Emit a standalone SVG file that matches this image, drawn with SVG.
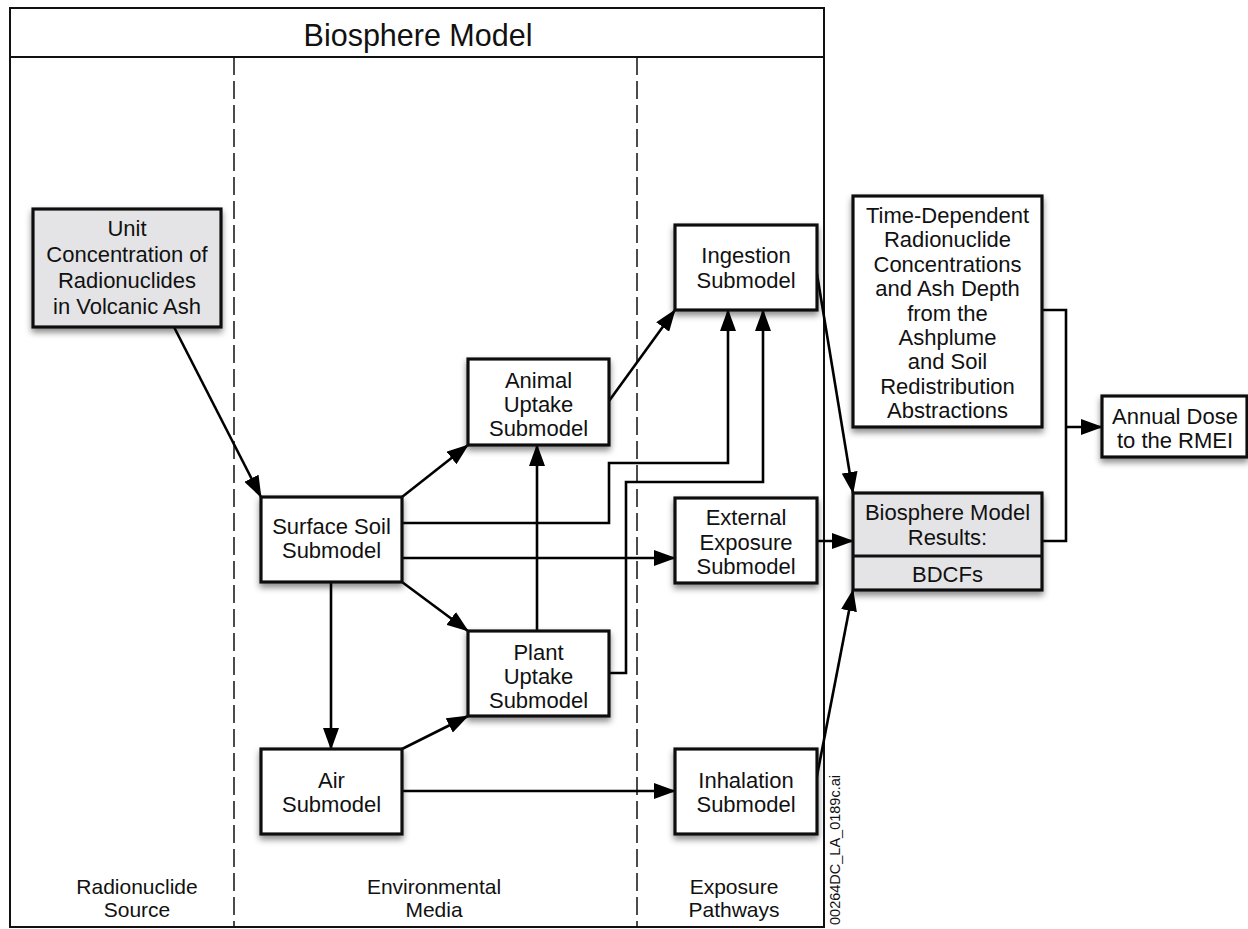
<svg xmlns="http://www.w3.org/2000/svg" width="1248" height="929" viewBox="0 0 1248 929">
<defs>
<filter id="sh" x="-20%" y="-20%" width="140%" height="150%">
<feDropShadow dx="0" dy="4" stdDeviation="3" flood-color="#000" flood-opacity="0.45"/>
</filter>
<marker id="ah" markerUnits="userSpaceOnUse" markerWidth="22" markerHeight="16" refX="21" refY="8" orient="auto">
<path d="M0,0 L22,8 L0,16 z" fill="#000"/>
</marker>
</defs>
<style>
text{font-family:"Liberation Sans",Arial,sans-serif;fill:#111;text-anchor:middle}
.t{font-size:22px}
.b{font-size:21px}
.box{fill:#fff;stroke:#111;stroke-width:3.2;filter:url(#sh)}
.gbox{fill:#e4e4e6;stroke:#111;stroke-width:3.2;filter:url(#sh)}
.c{fill:none;stroke:#000;stroke-width:2.6}
.ca{fill:none;stroke:#000;stroke-width:2.6;marker-end:url(#ah)}
.dash{stroke:#111;stroke-width:1.5;stroke-dasharray:18 6}
</style>
<rect width="1248" height="929" fill="#fff"/>
<g id="frame">
<rect x="10" y="8" width="814" height="919" fill="none" stroke="#111" stroke-width="2"/>
<line x1="10" y1="57" x2="824" y2="57" stroke="#111" stroke-width="2"/>
<line class="dash" x1="234" y1="57" x2="234" y2="928"/>
<line class="dash" x1="637" y1="57" x2="637" y2="928"/>
<text x="418" y="46" style="font-size:30.5px">Biosphere Model</text>
<text class="b" x="137" y="894">Radionuclide</text>
<text class="b" x="137" y="917">Source</text>
<text class="b" x="434" y="894">Environmental</text>
<text class="b" x="434" y="917">Media</text>
<text class="b" x="734" y="894">Exposure</text>
<text class="b" x="734" y="917">Pathways</text>
<text transform="translate(840,925) rotate(-90)" style="font-size:14.5px;text-anchor:start">00264DC_LA_0189c.ai</text>
</g>
<g id="connectors">
<line class="ca" x1="174" y1="327" x2="261" y2="497"/>
<line class="ca" x1="402" y1="497" x2="468" y2="445"/>
<polyline class="ca" points="402,523 609,523 609,463 728,463 728,310"/>
<line class="ca" x1="402" y1="558" x2="675" y2="558"/>
<line class="ca" x1="402" y1="582" x2="468" y2="631"/>
<line class="ca" x1="331" y1="582" x2="331" y2="749"/>
<line class="ca" x1="537" y1="631" x2="537" y2="445"/>
<polyline class="ca" points="609,673 626,673 626,482 763,482 763,310"/>
<line class="ca" x1="402" y1="749" x2="468" y2="716"/>
<line class="ca" x1="402" y1="791" x2="675" y2="791"/>
<line class="ca" x1="609" y1="401" x2="675" y2="310"/>
<line class="ca" x1="816" y1="268" x2="853" y2="493"/>
<line class="ca" x1="817" y1="541" x2="853" y2="541"/>
<line class="ca" x1="816" y1="781" x2="853" y2="590"/>
<polyline class="c" points="1042,310 1066,310 1066,541 1042,541"/>
<line class="ca" x1="1066" y1="427" x2="1102" y2="427"/>
</g>
<g id="unit">
<rect class="gbox" x="33" y="209" width="188" height="118"/>
<text class="t" x="127" y="236">Unit</text>
<text class="t" x="127" y="262">Concentration of</text>
<text class="t" x="127" y="288">Radionuclides</text>
<text class="t" x="127" y="314">in Volcanic Ash</text>
</g>
<g id="surface">
<rect class="box" x="261" y="497" width="141" height="85"/>
<text class="t" x="331.5" y="534">Surface Soil</text>
<text class="t" x="331.5" y="558">Submodel</text>
</g>
<g id="animal">
<rect class="box" x="468" y="359" width="141" height="86"/>
<text class="t" x="538.5" y="388">Animal</text>
<text class="t" x="538.5" y="412">Uptake</text>
<text class="t" x="538.5" y="436">Submodel</text>
</g>
<g id="plant">
<rect class="box" x="468" y="631" width="141" height="85"/>
<text class="t" x="538.5" y="660">Plant</text>
<text class="t" x="538.5" y="684">Uptake</text>
<text class="t" x="538.5" y="708">Submodel</text>
</g>
<g id="air">
<rect class="box" x="261" y="749" width="141" height="85"/>
<text class="t" x="331.5" y="788">Air</text>
<text class="t" x="331.5" y="812">Submodel</text>
</g>
<g id="ingestion">
<rect class="box" x="675" y="225" width="142" height="85"/>
<text class="t" x="746" y="263">Ingestion</text>
<text class="t" x="746" y="288">Submodel</text>
</g>
<g id="external">
<rect class="box" x="675" y="498" width="142" height="85"/>
<text class="t" x="746" y="525">External</text>
<text class="t" x="746" y="549.5">Exposure</text>
<text class="t" x="746" y="574">Submodel</text>
</g>
<g id="inhalation">
<rect class="box" x="675" y="749" width="142" height="85"/>
<text class="t" x="746" y="788">Inhalation</text>
<text class="t" x="746" y="812">Submodel</text>
</g>
<g id="timedep">
<rect class="box" x="853" y="196" width="189" height="231"/>
<text class="t" x="947.5" y="223">Time-Dependent</text>
<text class="t" x="947.5" y="247.4">Radionuclide</text>
<text class="t" x="947.5" y="271.8">Concentrations</text>
<text class="t" x="947.5" y="296.2">and Ash Depth</text>
<text class="t" x="947.5" y="320.6">from the</text>
<text class="t" x="947.5" y="345">Ashplume</text>
<text class="t" x="947.5" y="369.4">and Soil</text>
<text class="t" x="947.5" y="393.8">Redistribution</text>
<text class="t" x="947.5" y="418.2">Abstractions</text>
</g>
<g id="results">
<rect class="gbox" x="853" y="493" width="189" height="97"/>
<line x1="853" y1="556" x2="1042" y2="556" stroke="#111" stroke-width="3"/>
<text class="t" x="947.5" y="520">Biosphere Model</text>
<text class="t" x="947.5" y="545">Results:</text>
<text class="t" x="947.5" y="582">BDCFs</text>
</g>
<g id="annual">
<rect class="box" x="1102" y="396" width="145" height="61"/>
<text class="t" x="1175" y="424">Annual Dose</text>
<text class="t" x="1175" y="448">to the RMEI</text>
</g>
</svg>
